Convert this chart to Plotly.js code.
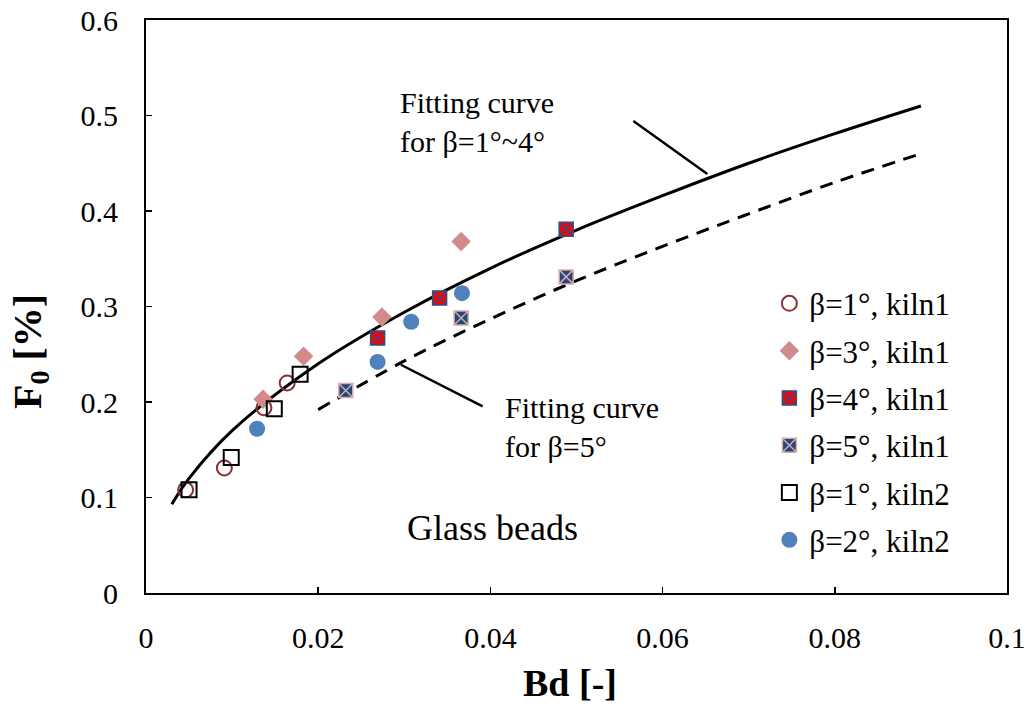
<!DOCTYPE html>
<html>
<head>
<meta charset="utf-8">
<script src="https://cdn.plot.ly/plotly-3.0.1.min.js"></script>
<style>html,body{margin:0;padding:0;background:#fff;}#chart{width:1031px;height:704px;}</style>
</head>
<body>
<div id="chart"></div>
<script>
// Data
const kiln1_b1_x = [0.0046, 0.0091, 0.0137, 0.0164];
const kiln1_b1_y = [0.108, 0.131, 0.194, 0.220];
const kiln1_b3_x = [0.0136, 0.0183, 0.0274, 0.0366];
const kiln1_b3_y = [0.203, 0.248, 0.289, 0.368];
const kiln1_b4_x = [0.0269, 0.0341, 0.0488];
const kiln1_b4_y = [0.267, 0.309, 0.381];
const kiln1_b5_x = [0.0232, 0.0366, 0.0488];
const kiln1_b5_y = [0.212, 0.288, 0.331];
const kiln2_b1_x = [0.0050, 0.0099, 0.0149, 0.0179];
const kiln2_b1_y = [0.108, 0.142, 0.193, 0.229];
const kiln2_b2_x = [0.0129, 0.0269, 0.0308, 0.0367];
const kiln2_b2_y = [0.172, 0.242, 0.284, 0.314];

const fit14_x = [0.003, 0.005, 0.01, 0.02, 0.03, 0.04, 0.05, 0.06, 0.07, 0.08, 0.09];
const fit14_y = [0.093, 0.120, 0.170, 0.240, 0.294, 0.340, 0.380, 0.416, 0.450, 0.481, 0.510];
const fit5_x = [0.02, 0.03, 0.04, 0.05, 0.06, 0.07, 0.08, 0.09];
const fit5_y = [0.192, 0.243, 0.287, 0.327, 0.363, 0.397, 0.430, 0.460];

const names = ["β=1°, kiln1", "β=3°, kiln1", "β=4°, kiln1", "β=5°, kiln1", "β=1°, kiln2", "β=2°, kiln2"];

const FONT = "Liberation Serif, Times New Roman, serif";

const traces = [
  {x: fit14_x, y: fit14_y, mode: "lines", line: {color: "#000", width: 3, shape: "spline"}, showlegend: false, hoverinfo: "skip"},
  {x: fit5_x, y: fit5_y, mode: "lines", line: {color: "#000", width: 3, dash: "13px,9px", shape: "spline"}, showlegend: false, hoverinfo: "skip"},
  {x: kiln1_b1_x, y: kiln1_b1_y, name: names[0], mode: "markers", legendgroup: "a",
   marker: {symbol: "circle-open", size: 15, color: "#8B3030", line: {width: 2, color: "#8B3030"}}},
  {x: kiln1_b3_x, y: kiln1_b3_y, name: names[1], mode: "markers", legendgroup: "b",
   marker: {symbol: "diamond", size: 15, color: "#D38A8A", line: {width: 0}}},
  {x: kiln1_b4_x, y: kiln1_b4_y, name: names[2], mode: "markers", legendgroup: "c",
   marker: {symbol: "square-x", size: 14, color: "#FF0000", line: {width: 1.5, color: "#2E4E86"}}},
  {x: kiln1_b5_x, y: kiln1_b5_y, name: names[3], mode: "markers", legendgroup: "d",
   marker: {symbol: "square-x", size: 14, color: "#1F497D", line: {width: 1.5, color: "#D9A8A8"}}},
  {x: kiln2_b1_x, y: kiln2_b1_y, name: names[4], mode: "markers", legendgroup: "e",
   marker: {symbol: "square-open", size: 15, color: "#000", line: {width: 2, color: "#000"}}},
  {x: kiln2_b2_x, y: kiln2_b2_y, name: names[5], mode: "markers", legendgroup: "f",
   marker: {symbol: "circle", size: 16, color: "#4F81BD", line: {width: 0}}}
];

const layout = {
  width: 1031, height: 704,
  margin: {l: 146, r: 24, t: 20, b: 111},
  paper_bgcolor: "#fff", plot_bgcolor: "#fff",
  font: {family: FONT, size: 30, color: "#000"},
  showlegend: true,
  legend: {x: 0.724, y: 0.552, xanchor: "left", yanchor: "top", bgcolor: "rgba(0,0,0,0)",
           font: {family: FONT, size: 31, color: "#000"}, traceorder: "grouped", tracegroupgap: 4,
           itemsizing: "trace"},
  xaxis: {
    range: [0, 0.1], dtick: 0.02, tick0: 0, showgrid: false, zeroline: false,
    showline: true, linecolor: "#000", linewidth: 2, mirror: true,
    ticks: "inside", ticklen: 6, tickcolor: "#000", tickwidth: 1.5,
    ticklabelstandoff: 17,
    tickfont: {family: FONT, size: 30, color: "#000"}
  },
  yaxis: {
    range: [0, 0.6], dtick: 0.1, tick0: 0, showgrid: false, zeroline: false,
    showline: true, linecolor: "#000", linewidth: 2, mirror: true,
    ticks: "inside", ticklen: 6, tickcolor: "#000", tickwidth: 1.5,
    ticklabelstandoff: 20,
    tickfont: {family: FONT, size: 30, color: "#000"}
  },
  annotations: [
    {x: 0.0293, y: 0.4937, xref: "x", yref: "y", xanchor: "left", yanchor: "middle", align: "left",
     text: "Fitting curve<br>for β=1°~4°", showarrow: false, font: {family: FONT, size: 30, color: "#000"}},
    {x: 0.0415, y: 0.1736, xref: "x", yref: "y", xanchor: "left", yanchor: "middle", align: "left",
     text: "Fitting curve<br>for β=5°", showarrow: false, font: {family: FONT, size: 30, color: "#000"}},
    {x: 0.0402, y: 0.0685, xref: "x", yref: "y", xanchor: "center", yanchor: "middle",
     text: "Glass beads", showarrow: false, font: {family: FONT, size: 36, color: "#000"}},
    {x: 0.4925, y: -0.157, xref: "paper", yref: "paper", xanchor: "center", yanchor: "middle",
     text: "<b>Bd [-]</b>", showarrow: false, font: {family: FONT, size: 38, color: "#000"}},
    {x: -0.1347, y: 0.4206, xref: "paper", yref: "paper", xanchor: "center", yanchor: "middle", textangle: -90,
     text: "<b>F<sub>0</sub> [%]</b>", showarrow: false, font: {family: FONT, size: 40, color: "#000"}}
  ],
  shapes: [
    {type: "line", xref: "x", yref: "y", x0: 0.0566, y0: 0.4942, x1: 0.0652, y1: 0.4388, line: {color: "#000", width: 2.5}},
    {type: "line", xref: "x", yref: "y", x0: 0.0296, y0: 0.2390, x1: 0.0391, y1: 0.1954, line: {color: "#000", width: 2.5}}
  ]
};

Plotly.newPlot("chart", traces, layout, {displayModeBar: false, staticPlot: true});
</script>
</body>
</html>
